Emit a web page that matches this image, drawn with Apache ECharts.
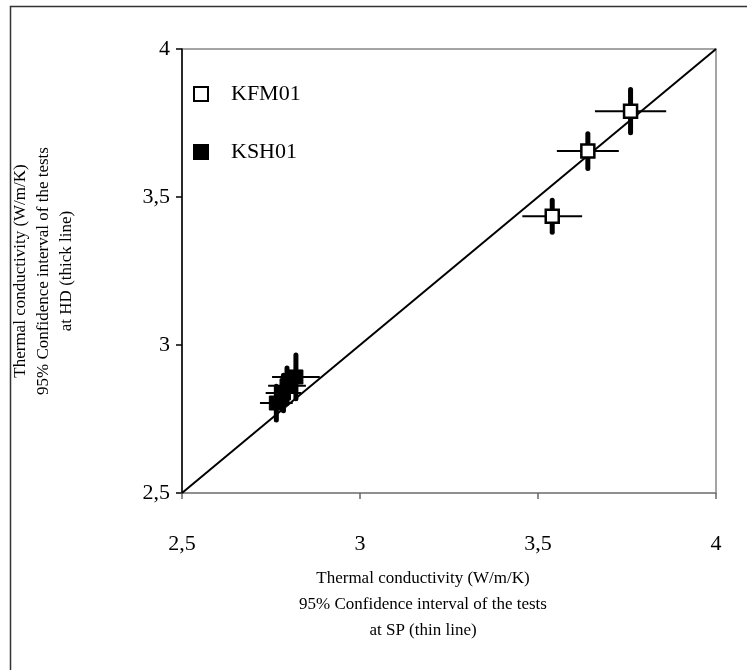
<!DOCTYPE html>
<html>
<head>
<meta charset="utf-8">
<script src="https://cdn.jsdelivr.net/npm/echarts@6/dist/echarts.min.js"></script>
<style>
  html, body { margin: 0; padding: 0; background: #fff; }
  #chart { width: 747px; height: 670px; }
</style>
</head>
<body>
<div id="chart"></div>
<script>
(function () {
  'use strict';

  // ── Data ───────────────────────────────────────────────────────────────────
  var seriesNames = ['KFM01', 'KSH01'];

  // KFM01 (open squares)
  var kfmX    = [3.76, 3.64, 3.54];
  var kfmY    = [3.79, 3.655, 3.435];
  var kfmXErr = [0.10, 0.087, 0.084];   // SP interval (thin line)
  var kfmYErr = [0.073, 0.059, 0.054];  // HD interval (thick line)

  // KSH01 (filled squares)
  var kshX    = [2.82, 2.795, 2.785, 2.765];
  var kshY    = [2.892, 2.862, 2.838, 2.804];
  var kshXErr = [0.067, 0.053, 0.05, 0.046];
  var kshYErr = [0.074, 0.06, 0.06, 0.057];

  // 1:1 reference line and axis ticks
  var diagX = [2.5, 4];
  var diagY = [2.5, 4];
  var axisMin = 2.5, axisMax = 4, axisStep = 0.5;

  var xTitle = 'Thermal conductivity (W/m/K)\n95% Confidence interval of the tests\nat SP (thin line)';
  var yTitle = 'Thermal conductivity (W/m/K)\n95% Confidence interval of the tests\nat HD (thick line)';

  var FONT = '"Liberation Serif", "DejaVu Serif", serif';

  function zip(xs, ys) {
    return xs.map(function (x, i) { return [x, ys[i]]; });
  }
  function errRows(xs, ys, xe, ye) {
    return xs.map(function (x, i) { return [x, ys[i], xe[i], ye[i]]; });
  }
  function fmt(v) { return String(v).replace('.', ','); }

  // thin horizontal bar + thick vertical bar
  function renderErr(params, api) {
    var x = api.value(0), y = api.value(1), xe = api.value(2), ye = api.value(3);
    var l = api.coord([x - xe, y]), r = api.coord([x + xe, y]);
    var t = api.coord([x, y + ye]), b = api.coord([x, y - ye]);
    return {
      type: 'group',
      children: [
        { type: 'line', shape: { x1: l[0], y1: l[1], x2: r[0], y2: r[1] },
          style: { stroke: '#000', lineWidth: 2 } },
        { type: 'line', shape: { x1: t[0], y1: t[1], x2: b[0], y2: b[1] },
          style: { stroke: '#000', lineWidth: 5, lineCap: 'round' } }
      ]
    };
  }

  var chart = echarts.init(document.getElementById('chart'), null, { renderer: 'canvas' });

  chart.setOption({
    backgroundColor: '#fff',
    animation: false,
    textStyle: { fontFamily: FONT },
    grid: { left: 182, right: 31, top: 49, bottom: 177, show: true,
            borderColor: '#888', borderWidth: 1.5 },
    graphic: [
      { type: 'rect', left: 8, top: 4, z: -1,
        shape: { width: 760, height: 700 },
        style: { fill: 'none', stroke: '#333', lineWidth: 1.5 } },
      { type: 'text', x: 423, y: 566, z: 10,
        style: { text: xTitle, fill: '#000', font: '17px ' + FONT,
                 align: 'center', verticalAlign: 'top', lineHeight: 26 } },
      { type: 'text', x: 44, y: 271, rotation: Math.PI / 2, z: 10,
        style: { text: yTitle, fill: '#000', font: '17px ' + FONT,
                 align: 'center', verticalAlign: 'middle', lineHeight: 23 } }
    ],
    legend: {
      orient: 'vertical',
      left: 188, top: 78,
      itemWidth: 14, itemHeight: 14, itemGap: 36,
      icon: 'rect',
      textStyle: { fontSize: 22, fontFamily: FONT, color: '#000', padding: [0, 0, -6, 18] },
      data: seriesNames
    },
    xAxis: {
      type: 'value', min: axisMin, max: axisMax, interval: axisStep,
      axisLine: { lineStyle: { color: '#888', width: 1.5 } },
      axisTick: { show: true, length: 6, lineStyle: { color: '#666', width: 1.5 } },
      axisLabel: { color: '#000', fontSize: 22, fontFamily: FONT, margin: 40, formatter: fmt },
      splitLine: { show: false }
    },
    yAxis: {
      type: 'value', min: axisMin, max: axisMax, interval: axisStep,
      axisLine: { lineStyle: { color: '#000', width: 1.5 } },
      axisTick: { show: true, length: 6, lineStyle: { color: '#000', width: 1.5 } },
      axisLabel: { color: '#000', fontSize: 22, fontFamily: FONT, margin: 12, formatter: fmt },
      splitLine: { show: false }
    },
    series: [
      { type: 'line', data: zip(diagX, diagY), symbol: 'none', silent: true, z: 2,
        lineStyle: { color: '#000', width: 2 } },
      { type: 'custom', data: errRows(kfmX, kfmY, kfmXErr, kfmYErr), renderItem: renderErr, z: 3, silent: true },
      { type: 'custom', data: errRows(kshX, kshY, kshXErr, kshYErr), renderItem: renderErr, z: 3, silent: true },
      { name: 'KFM01', type: 'scatter', data: zip(kfmX, kfmY), symbol: 'rect', symbolSize: 13, z: 5,
        itemStyle: { color: '#fff', borderColor: '#000', borderWidth: 2.5, opacity: 1 } },
      { name: 'KSH01', type: 'scatter', data: zip(kshX, kshY), symbol: 'rect', symbolSize: 14, z: 5,
        itemStyle: { color: '#000', borderColor: '#000', borderWidth: 1, opacity: 1 } }
    ]
  });
})();
</script>
</body>
</html>
